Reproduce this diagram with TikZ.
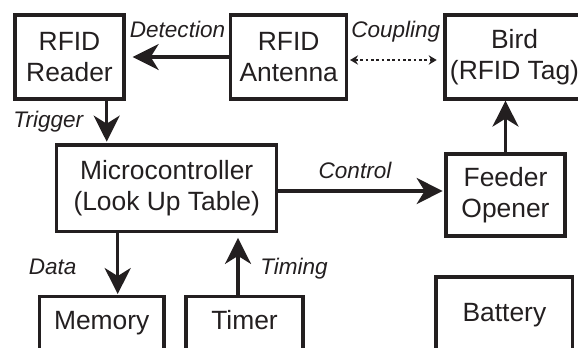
\documentclass[tikz,border=0pt]{standalone}
\usepackage{fontspec}
\setmainfont{Liberation Sans}
\usetikzlibrary{arrows.meta,calc}
\definecolor{ink}{HTML}{231F20}
\begin{document}
\begin{tikzpicture}[x=0.75pt,y=-0.75pt,
  box/.style={draw=ink, line width=2.4pt, outer sep=0pt, inner sep=0pt, text=ink,
    font=\fontsize{19.8pt}{23.6pt}\selectfont, align=center},
  single/.style={text height=14pt, text depth=4pt},
  lbl/.style={text=ink, font=\fontsize{16.9pt}{20pt}\selectfont\itshape, anchor=base, inner sep=0pt},
  arr/.style={draw=ink, line width=2.4pt, -{Stealth[length=19.5pt,width=19.5pt,inset=6pt]}},
  cpl/.style={draw=ink, line width=2pt, dash pattern=on 2pt off 2pt,
    {Stealth[length=6pt,width=7pt]}-{Stealth[length=6pt,width=7pt]}}]
\useasboundingbox (0,0) rectangle (578,347);
\clip (0,0) rectangle (578,347);
% boxes
\node[box, minimum width=81.75pt, minimum height=63pt] (reader) at (69.5,57) {RFID\\Reader};
\node[box, minimum width=87pt, minimum height=63pt] (antenna) at (288.7,57) {RFID\\Antenna};
\node[box, minimum width=104.25pt, minimum height=63pt] (bird) at (514.5,57) {Bird\\(RFID Tag)};
\node[box, minimum width=165pt, minimum height=65pt] (micro) at (166.7,188.3) {Microcontroller\\(Look Up Table)};
\node[box, minimum width=89.25pt, minimum height=61.5pt] (feeder) at (505.5,195) {Feeder\\Opener};
\node[box, single, minimum width=93.5pt, minimum height=39.9pt] (memory) at (101.7,323.3) {Memory};
\node[box, single, minimum width=87.75pt, minimum height=39.9pt] (timer) at (244.5,323.3) {Timer};
\node[box, single, minimum width=102.5pt, minimum height=57pt] (battery) at (504.4,315) {Battery};
% labels
\node[lbl] (ldet) at (177.5,37.7) {Detection};
\node[lbl] (lcpl) at (395.8,37) {Coupling};
\node[lbl] (ltrg) at (48.3,127.5) {Trigger};
\node[lbl] (lctl) at (355,178) {Control};
\node[lbl] (ldat) at (52.7,274) {Data};
\node[lbl] (ltim) at (294,274) {Timing};
% connectors
\draw[arr, shorten >=6.5pt] (antenna.west) -- (reader.east);
\coordinate (ca) at ($(antenna.east)+(0,3)$);
\draw[cpl, shorten <=2.5pt, shorten >=6.2pt] (ca) -- (ca -| bird.west);
\coordinate (ct) at ($(reader.south)+(37.2,0)$);
\draw[arr, shorten >=2.5pt] (ct) -- (ct |- micro.north);
\coordinate (cc) at ($(micro.east)+(0,2.7)$);
\draw[arr, shorten >=2.5pt] (cc) -- (cc -| feeder.west);
\draw[arr, shorten >=1.2pt] (feeder.north) -- (feeder.north |- bird.south);
\coordinate (cd) at ($(micro.south)+(-49,0)$);
\draw[arr, shorten >=2pt] (cd) -- (cd |- memory.north);
\coordinate (cm) at ($(timer.north)+(-6.5,0)$);
\draw[arr, shorten >=4.7pt] (cm) -- (cm |- micro.south);
\end{tikzpicture}
\end{document}
